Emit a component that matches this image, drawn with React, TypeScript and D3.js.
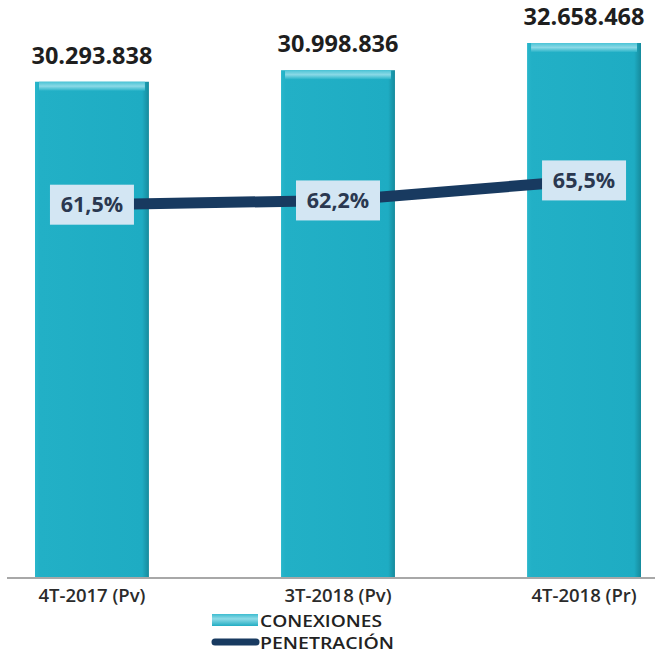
import React from "react";
import * as d3 from "d3";

const categories = ["4T-2017 (Pv)", "3T-2018 (Pv)", "4T-2018 (Pr)"];
const conexiones = [30293838, 30998836, 32658468];
const conexionesLabels = ["30.293.838", "30.998.836", "32.658.468"];
const penetracion = [61.5, 62.2, 65.5];
const penetracionLabels = ["61,5%", "62,2%", "65,5%"];
const legendLabels = ["CONEXIONES", "PENETRACIÓN"];

const W = 660;
const H = 652;
const baseline = 578;
const font = "'Open Sans', 'DejaVu Sans', sans-serif";

export default function App() {
  const x = d3.scaleBand<string>().domain(categories).range([35, 641]).paddingInner(0.537).paddingOuter(0);
  const yBar = d3.scaleLinear().domain([0, 32658468]).range([baseline, 43]);
  const yPen = d3.scaleLinear().domain([0, 100]).range([baseline, baseline - 607]);
  const cx = (c: string) => (x(c) as number) + x.bandwidth() / 2;
  const line = d3
    .line<number>()
    .x((_, i) => cx(categories[i]))
    .y((d) => yPen(d));

  return (
    <svg width={W} height={H} style={{ position: "absolute", left: 0, top: 0, background: "#fff" }}>
      <defs>
        <linearGradient id="barH" x1="0" x2="1" y1="0" y2="0">
          <stop offset="0" stopColor="#29b6cb" />
          <stop offset="0.04" stopColor="#22b0c6" />
          <stop offset="0.94" stopColor="#1eacc3" />
          <stop offset="1" stopColor="#168a9c" />
        </linearGradient>
        <linearGradient id="barTop" x1="0" x2="0" y1="0" y2="1">
          <stop offset="0" stopColor="#4cc4d6" />
          <stop offset="0.5" stopColor="#8ad9e6" />
          <stop offset="1" stopColor="#2ab4c9" />
        </linearGradient>
        <linearGradient id="legSw" x1="0" x2="0" y1="0" y2="1">
          <stop offset="0" stopColor="#3dbcd0" />
          <stop offset="0.4" stopColor="#8fdbe7" />
          <stop offset="1" stopColor="#22adc3" />
        </linearGradient>
      </defs>
      {categories.map((c, i) => {
        const x0 = x(c) as number;
        const y0 = yBar(conexiones[i]);
        return (
          <g key={c}>
            <rect x={x0} y={y0} width={x.bandwidth()} height={baseline - y0} fill="url(#barH)" />
            <rect x={x0 + 4} y={y0} width={x.bandwidth() - 8} height={9} fill="url(#barTop)" />
            <text
              x={cx(c)}
              y={y0 - 18}
              textAnchor="middle"
              fontFamily={font}
              fontWeight={700}
              fontSize={23.5}
              fill="#1e1e1e"
            >
              {conexionesLabels[i]}
            </text>
            <text
              x={cx(c)}
              y={602}
              textAnchor="middle"
              fontFamily={font}
              fontWeight={600}
              fontSize={18.5}
              fill="#2b2b2b"
            >
              {c}
            </text>
          </g>
        );
      })}
      <line x1={7} x2={655} y1={baseline} y2={baseline} stroke="#a8a8a8" strokeWidth={2} />
      <path d={line(penetracion) || ""} fill="none" stroke="#183a60" strokeWidth={11} />
      {categories.map((c, i) => {
        const px = cx(c);
        const py = yPen(penetracion[i]);
        return (
          <g key={c + "p"}>
            <rect x={px - 42} y={py - 20} width={84} height={40} fill="#d3e6f3" />
            <text
              x={px}
              y={py + 7.5}
              textAnchor="middle"
              fontFamily={font}
              fontWeight={700}
              fontSize={21.5}
              fill="#2a3850"
            >
              {penetracionLabels[i]}
            </text>
          </g>
        );
      })}
      <g>
        <rect x={212} y={614} width={46} height={12} fill="url(#legSw)" />
        <text
          x={260}
          y={627}
          fontFamily={font}
          fontSize={17}
          fill="#222"
          fontWeight={600}
          textLength={122}
          lengthAdjust="spacingAndGlyphs"
        >
          {legendLabels[0]}
        </text>
        <line x1={215} x2={256} y1={642} y2={642} stroke="#183a60" strokeWidth={7} strokeLinecap="round" />
        <text
          x={260}
          y={648.5}
          fontFamily={font}
          fontSize={17}
          fill="#222"
          fontWeight={600}
          textLength={134}
          lengthAdjust="spacingAndGlyphs"
        >
          {legendLabels[1]}
        </text>
      </g>
    </svg>
  );
}
